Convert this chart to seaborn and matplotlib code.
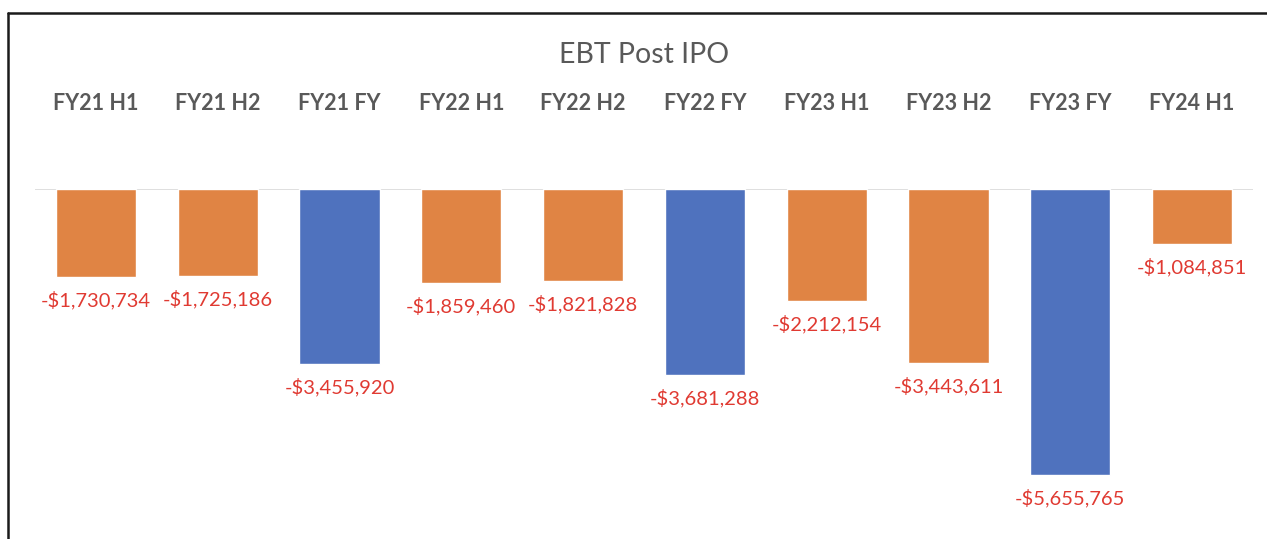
import matplotlib
matplotlib.use("Agg")
import matplotlib.pyplot as plt
from matplotlib.lines import Line2D
import seaborn as sns
import pandas as pd

# data
periods = ["FY21 H1", "FY21 H2", "FY21 FY", "FY22 H1", "FY22 H2",
           "FY22 FY", "FY23 H1", "FY23 H2", "FY23 FY", "FY24 H1"]
ebt = [-1730734, -1725186, -3455920, -1859460, -1821828,
       -3681288, -2212154, -3443611, -5655765, -1084851]
kind = ["half", "half", "full", "half", "half",
        "full", "half", "half", "full", "half"]

df = pd.DataFrame({"period": periods, "ebt": ebt, "kind": kind})

sns.set_style("white")
plt.rcParams["font.family"] = ["Lato", "DejaVu Sans"]

fig = plt.figure(figsize=(12.67, 5.39), dpi=100)
ax = fig.add_axes([35 / 1267, 0, 1218 / 1267, 350 / 539])

pal = {"half": "#E08444", "full": "#4F72BE"}
sns.barplot(data=df, x="period", y="ebt", hue="kind", palette=pal,
            dodge=False, width=0.66, legend=False, ax=ax, saturation=1)

ax.set_ylim(-6.92e6, 0)
ax.set_xlim(-0.5, 9.5)
ax.axhline(0, color="#D9D9D9", lw=1.2, zorder=0)

for c in ax.containers:
    labs = ["-${:,.0f}".format(abs(v)) for v in c.datavalues]
    ax.bar_label(c, labels=labs, padding=10, color="#E03A32", fontsize=14.5)

ax.xaxis.set_ticks_position("top")
ax.tick_params(axis="x", length=0, pad=54, labelsize=15.5, labelcolor="#595959")
for t in ax.get_xticklabels():
    t.set_fontweight("bold")
ax.set_yticks([])
ax.set_xlabel("")
ax.set_ylabel("")
for s in ax.spines.values():
    s.set_visible(False)

fig.text(644 / 1267, 1 - 55 / 539, "EBT Post IPO", ha="center", va="center",
         fontsize=20.5, color="#595959")

# outer frame (left and top edges only show in the crop)
fig.add_artist(Line2D([8 / 1267, 8 / 1267], [0, 1 - 13 / 539], color="#1a1a1a", lw=1.8))
fig.add_artist(Line2D([8 / 1267, 1], [1 - 13 / 539, 1 - 13 / 539], color="#1a1a1a", lw=1.8))

fig.savefig("out.png", dpi=100)
